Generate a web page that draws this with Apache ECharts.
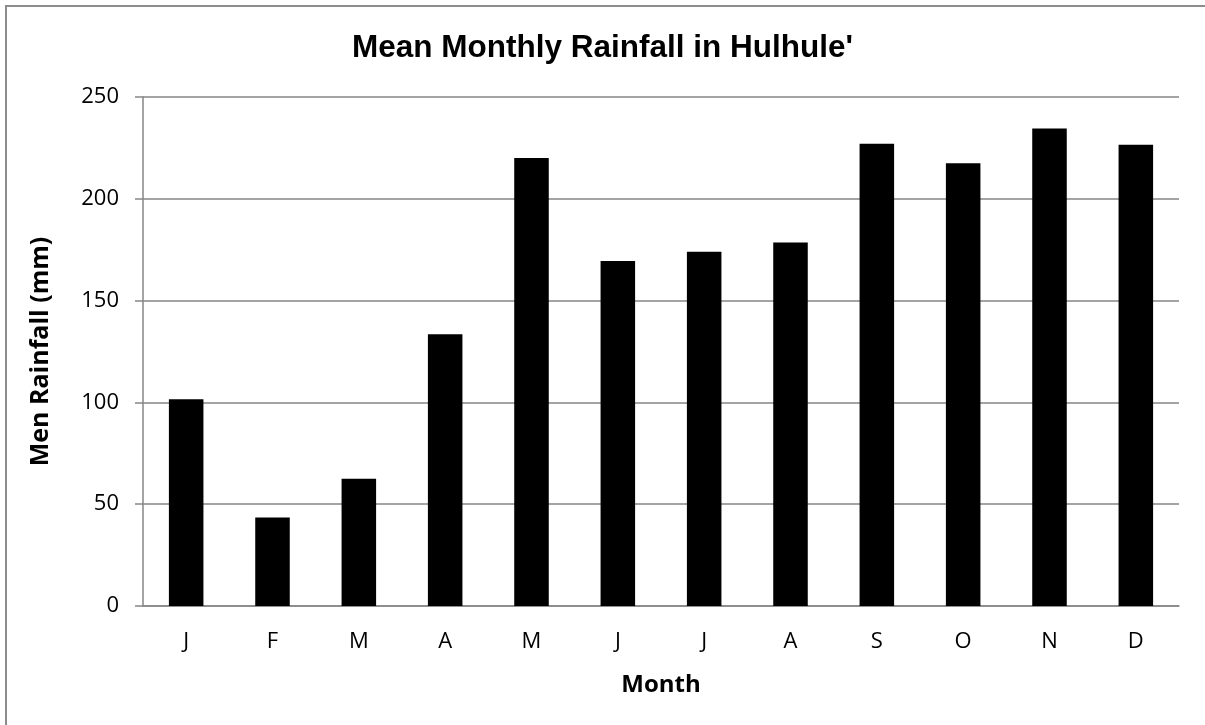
<!DOCTYPE html>
<html>
<head>
<meta charset="utf-8">
<script src="https://cdn.jsdelivr.net/npm/echarts@6/dist/echarts.min.js"></script>
<style>
html,body{margin:0;padding:0;background:#fff;}
#chart{width:1205px;height:725px;}
</style>
</head>
<body>
<div id="chart"></div>
<script>
const titleText = "Mean Monthly Rainfall in Hulhule'";
const months = ['J','F','M','A','M','J','J','A','S','O','N','D'];
const rainfall = [101.5, 43.5, 62.5, 133.5, 220, 169.5, 174, 178.5, 227, 217.5, 234.5, 226.5];
const yTicks = {min: 0, max: 250, interval: 50};
const xName = 'Month';
const yName = 'Men Rainfall (mm)';

const chart = echarts.init(document.getElementById('chart'), null, {renderer: 'canvas'});
const gray = '#868686';
chart.setOption({
  animation: false,
  backgroundColor: '#ffffff',
  graphic: [{
    type: 'rect', silent: true, z: -1,
    shape: {x: 6, y: 6, width: 1400, height: 1000},
    style: {fill: 'none', stroke: '#8c8c8c', lineWidth: 2}
  }],
  title: {
    text: titleText, left: 'center', top: 27,
    textStyle: {fontFamily: 'Liberation Sans, Arial', fontWeight: 'bold', fontSize: 31.5, color: '#000'}
  },
  grid: {left: 143, right: 26, top: 97, bottom: 119, containLabel: false},
  xAxis: {
    type: 'category', data: months,
    name: xName, nameLocation: 'middle', nameGap: 67,
    nameTextStyle: {fontFamily: 'Open Sans', fontWeight: 'bold', fontSize: 24, color: '#000'},
    axisLine: {lineStyle: {color: gray, width: 1.5}},
    axisTick: {show: false},
    axisLabel: {fontFamily: 'Open Sans', fontSize: 22, color: '#000', margin: 25}
  },
  yAxis: {
    type: 'value', min: yTicks.min, max: yTicks.max, interval: yTicks.interval,
    name: yName, nameLocation: 'middle', nameGap: 90, nameRotate: 90,
    nameTextStyle: {fontFamily: 'Open Sans', fontWeight: 'bold', fontSize: 25, color: '#000'},
    axisLine: {show: true, lineStyle: {color: gray, width: 1.5}},
    axisTick: {show: true, length: 8, lineStyle: {color: gray, width: 1.5}},
    splitLine: {lineStyle: {color: gray, width: 1.5}},
    axisLabel: {fontFamily: 'Open Sans', fontSize: 22, color: '#000', margin: 24}
  },
  series: [{
    type: 'bar', data: rainfall, barWidth: '40%',
    itemStyle: {color: '#000'}
  }]
});
</script>
</body>
</html>
